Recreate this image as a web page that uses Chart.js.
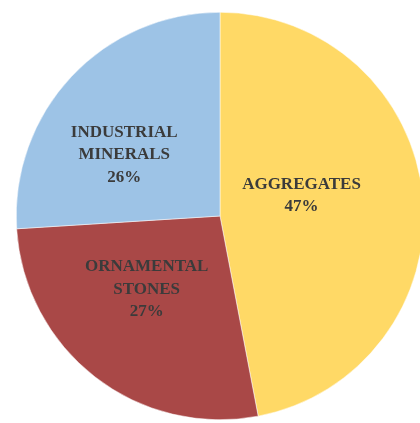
<!DOCTYPE html>
<html>
<head>
<meta charset="utf-8">
<script src="https://cdn.jsdelivr.net/npm/chart.js@4/dist/chart.umd.min.js"></script>
<style>
  html, body { margin: 0; padding: 0; background: #fff; overflow: hidden; }
  #wrap { position: absolute; left: 0; top: 0; width: 440px; height: 423px; }
</style>
</head>
<body>
<div id="wrap"><canvas id="myChart" width="440" height="423"></canvas></div>
<script>
// slices, clockwise from 12 o'clock
const categories = ['AGGREGATES', 'ORNAMENTAL STONES', 'INDUSTRIAL MINERALS'];
const labelLines = [['AGGREGATES'], ['ORNAMENTAL', 'STONES'], ['INDUSTRIAL', 'MINERALS']];
const shares = [47, 27, 26];
const sliceColors = ['#FFD966', '#A94847', '#9DC3E6'];
// label anchor, relative to pie centre, in units of radius
const labelOffsets = [[0.40, -0.10], [-0.36, 0.36], [-0.47, -0.30]];

const sliceLabels = {
    id: 'sliceLabels',
    afterDatasetsDraw(chart) {
        const ctx = chart.ctx;
        const meta = chart.getDatasetMeta(0);
        ctx.save();
        ctx.font = 'bold 17px "Liberation Serif", serif';
        ctx.fillStyle = '#3b3b3b';
        ctx.textAlign = 'center';
        ctx.textBaseline = 'middle';
        const lh = 22.5;
        meta.data.forEach((arc, i) => {
            const r = arc.outerRadius;
            const cx = arc.x + labelOffsets[i][0] * r;
            const cy = arc.y + labelOffsets[i][1] * r;
            const lines = labelLines[i].concat([shares[i] + '%']);
            const top = cy - (lines.length - 1) * lh / 2;
            lines.forEach((t, j) => ctx.fillText(t, cx, top + j * lh));
        });
        ctx.restore();
    }
};

var ctx = document.getElementById('myChart').getContext('2d');
new Chart(ctx, {
    type: 'pie',
    data: {
        labels: categories,
        datasets: [{
            data: shares,
            backgroundColor: sliceColors,
            borderColor: '#ffffff',
            borderWidth: 0.5
        }]
    },
    options: {
        responsive: false,
        animation: false,
        layout: { padding: { left: 16, right: 16, top: 12, bottom: 3 } },
        plugins: {
            legend: { display: false },
            tooltip: { enabled: false }
        }
    },
    plugins: [sliceLabels]
});
</script>
</body>
</html>
